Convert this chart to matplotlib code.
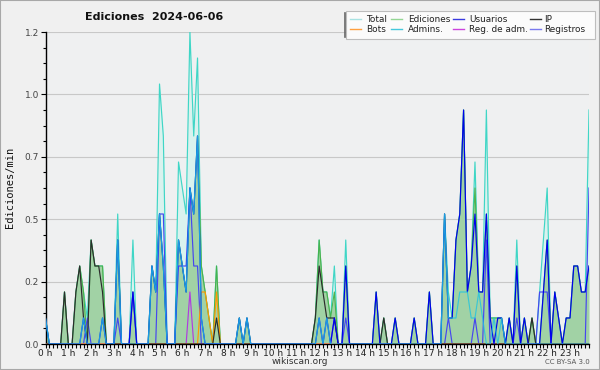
import numpy as np
import matplotlib
matplotlib.use("Agg")
import matplotlib.pyplot as plt
from matplotlib.patches import Rectangle
from matplotlib.lines import Line2D
from matplotlib.ticker import FixedLocator, MultipleLocator

# ---------------- data (10-minute bins, edits per minute) ----------------
N_BINS = 144
hours = list(range(24))
hour_labels = [f"{h} h" for h in hours]
y_ticks = [0.0, 0.24, 0.48, 0.72, 0.96, 1.2]

# bin index -> value (bins not listed are 0)
total_pts = {0: 0.1, 5: 0.2, 8: 0.2, 9: 0.3, 10: 0.2, 11: 0.1, 12: 0.4, 13: 0.3, 14: 0.3, 15: 0.3,
             19: 0.5, 23: 0.4, 28: 0.3, 29: 0.2, 30: 1.0, 31: 0.8, 35: 0.7, 36: 0.6, 37: 0.5,
             38: 1.2, 39: 0.8, 40: 1.1, 41: 0.3, 42: 0.2, 43: 0.1, 45: 0.3, 51: 0.1, 53: 0.1,
             71: 0.1, 72: 0.4, 73: 0.2, 74: 0.2, 75: 0.1, 76: 0.3, 79: 0.4, 87: 0.2, 89: 0.1,
             92: 0.1, 97: 0.1, 101: 0.2, 105: 0.5, 106: 0.2, 107: 0.1, 108: 0.4, 109: 0.5,
             110: 0.9, 111: 0.2, 112: 0.3, 113: 0.7, 114: 0.2, 115: 0.2, 116: 0.9, 117: 0.1,
             118: 0.1, 119: 0.1, 120: 0.1, 122: 0.1, 124: 0.4, 126: 0.1, 128: 0.1, 130: 0.2,
             131: 0.4, 132: 0.6, 134: 0.2, 135: 0.1, 137: 0.1, 138: 0.1, 139: 0.3, 140: 0.3,
             141: 0.2, 142: 0.2, 143: 0.9}
edits_pts = {0: 0.1, 5: 0.2, 8: 0.2, 9: 0.3, 10: 0.2, 12: 0.4, 13: 0.3, 14: 0.3, 15: 0.3,
             19: 0.4, 23: 0.2, 28: 0.3, 29: 0.2, 30: 0.5, 31: 0.3, 35: 0.4, 36: 0.3, 37: 0.2,
             38: 0.6, 39: 0.5, 40: 0.8, 41: 0.3, 42: 0.2, 43: 0.1, 45: 0.3, 51: 0.1, 53: 0.1,
             71: 0.1, 72: 0.4, 73: 0.2, 74: 0.2, 75: 0.1, 76: 0.2, 79: 0.3, 87: 0.2, 89: 0.1,
             92: 0.1, 97: 0.1, 101: 0.2, 105: 0.5, 106: 0.1, 107: 0.1, 108: 0.4, 109: 0.5,
             110: 0.9, 111: 0.2, 112: 0.3, 113: 0.6, 114: 0.2, 115: 0.2, 116: 0.5, 117: 0.1,
             118: 0.1, 119: 0.1, 120: 0.1, 122: 0.1, 124: 0.3, 126: 0.1, 128: 0.1, 131: 0.2,
             132: 0.4, 134: 0.2, 135: 0.1, 137: 0.1, 138: 0.1, 139: 0.3, 140: 0.3, 141: 0.2,
             142: 0.2, 143: 0.3}
users_pts = {0: 0.1, 10: 0.1, 15: 0.1, 19: 0.4, 23: 0.2, 28: 0.3, 29: 0.2, 30: 0.5, 31: 0.3,
             35: 0.4, 36: 0.3, 37: 0.2, 38: 0.6, 39: 0.5, 40: 0.8, 41: 0.1, 51: 0.1, 53: 0.1,
             72: 0.1, 74: 0.1, 76: 0.1, 79: 0.3, 87: 0.2, 92: 0.1, 97: 0.1, 101: 0.2, 105: 0.5,
             106: 0.1, 107: 0.1, 108: 0.4, 109: 0.5, 110: 0.9, 111: 0.2, 112: 0.3, 113: 0.5,
             114: 0.2, 115: 0.2, 116: 0.5, 117: 0.1, 119: 0.1, 120: 0.1, 122: 0.1, 124: 0.3,
             126: 0.1, 131: 0.2, 132: 0.4, 134: 0.2, 135: 0.1, 137: 0.1, 138: 0.1, 139: 0.3,
             140: 0.3, 141: 0.2, 142: 0.2, 143: 0.3}
ip_pts = {5: 0.2, 8: 0.2, 9: 0.3, 10: 0.1, 12: 0.4, 13: 0.3, 14: 0.3, 15: 0.2, 45: 0.1,
          71: 0.1, 72: 0.3, 73: 0.2, 74: 0.1, 75: 0.1, 76: 0.1, 89: 0.1, 128: 0.1}
bots_pts = {41: 0.2, 42: 0.2, 43: 0.1, 45: 0.2}
admins_pts = {0: 0.1, 10: 0.1, 15: 0.1, 19: 0.4, 28: 0.3, 29: 0.2, 30: 0.5, 31: 0.3, 35: 0.4,
              36: 0.3, 37: 0.2, 38: 0.6, 39: 0.5, 40: 0.8, 41: 0.1, 51: 0.1, 53: 0.1, 72: 0.1,
              74: 0.1, 105: 0.5, 106: 0.1, 107: 0.1, 108: 0.1, 109: 0.2, 110: 0.2, 111: 0.2,
              112: 0.1, 113: 0.1, 114: 0.2, 115: 0.1, 118: 0.1, 120: 0.1}
regadm_pts = {38: 0.2}
logs_pts = {11: 0.1, 19: 0.1, 23: 0.2, 30: 0.5, 31: 0.5, 35: 0.3, 36: 0.3, 37: 0.3, 38: 0.6,
            39: 0.3, 40: 0.3, 76: 0.1, 79: 0.1, 106: 0.1, 113: 0.1, 116: 0.4, 124: 0.1,
            130: 0.2, 131: 0.2, 132: 0.2, 143: 0.6}

legend_labels = ["Total", "Ediciones", "Usuarios", "IP",
                 "Bots", "Admins.", "Reg. de adm.", "Registros"]


def expand(pts):
    arr = np.zeros(N_BINS)
    for k, v in pts.items():
        arr[k] = v
    return arr


x = np.arange(N_BINS)
total = expand(total_pts)
edits = expand(edits_pts)
users = expand(users_pts)
ip = expand(ip_pts)
bots = expand(bots_pts)
admins = expand(admins_pts)
regadm = expand(regadm_pts)
logs = expand(logs_pts)

# ---------------- figure ----------------
W, H = 600, 370
fig = plt.figure(figsize=(6, 3.7), dpi=100, facecolor="#f0f0f0")
fig.patches.append(Rectangle((0, 0), 1, 1, transform=fig.transFigure, fill=False,
                             edgecolor="#a8a8a8", linewidth=1.5))

ax = fig.add_axes([45.5 / W, 26 / H, (589 - 45.5) / W, (344 - 32) / H])
ax.set_facecolor("#eff0f1")
ax.set_xlim(0, N_BINS - 1)
ax.set_ylim(0, 1.2)
ax.set_axisbelow(True)

lw = 0.85
ax.fill_between(x, total, color="#d9f2ee", lw=0, zorder=1)
ax.plot(x, total, color="#3fd6c6", lw=lw, zorder=2)
ax.fill_between(x, edits, color="#98cd98", lw=0, alpha=0.85, zorder=2.5)
ax.plot(x, edits, color="#44b044", lw=lw, alpha=0.9, zorder=3)
ax.plot(x, logs, color="#4646f0", lw=lw, zorder=4)
ax.plot(x, regadm, color="#b03ce0", lw=lw, zorder=4)
ax.plot(x, bots, color="#ff9a00", lw=lw, zorder=4)
ax.plot(x, ip, color="#2c2c2c", lw=lw, zorder=5)
ax.plot(x, users, color="#0000ee", lw=lw, zorder=5)
ax.plot(x, admins, color="#20c4e0", lw=lw, alpha=0.8, zorder=6)

# axes styling
for s in ["top", "right"]:
    ax.spines[s].set_visible(False)
ax.spines["left"].set_linewidth(1.0)
ax.spines["bottom"].set_linewidth(1.0)

ax.yaxis.set_major_locator(FixedLocator(y_ticks))
ax.set_yticklabels([f"{v:.1f}" for v in y_ticks])
ax.yaxis.set_minor_locator(FixedLocator(np.arange(0, 1.2001, 0.06)))
ax.grid(axis="y", which="major", color="#c8c8c8", lw=0.8)

ax.xaxis.set_major_locator(FixedLocator([h * 6 for h in hours]))
ax.set_xticklabels(hour_labels)
ax.xaxis.set_minor_locator(MultipleLocator(1))

ax.tick_params(axis="y", which="major", length=3.6, width=0.8, labelsize=6.5,
               labelcolor="#444444", pad=1)
ax.tick_params(axis="y", which="minor", length=2.2, width=0.8)
ax.tick_params(axis="x", which="both", length=2.6, width=0.8, labelsize=6.5,
               labelcolor="#222222", pad=1)

# texts
fig.text(85 / W, 1 - 16.5 / H, "Ediciones  2024-06-06", fontsize=8, fontweight="bold",
         ha="left", va="center", color="#111111")
fig.text(10 / W, 1 - 187 / H, "Ediciones/min", rotation=90, fontsize=7.5,
         family="DejaVu Sans Mono", ha="center", va="center", color="#111111")
fig.text(300 / W, 1 - 361.5 / H, "wikiscan.org", fontsize=6.5, ha="center", va="center",
         color="#333333")
fig.text(590 / W, 1 - 362.5 / H, "CC BY-SA 3.0", fontsize=5, ha="right", va="center",
         color="#555555")

# legend (manual)
fig.patches.append(Rectangle((346 / W, 1 - 39 / H), (595 - 346) / W, 28 / H,
                             transform=fig.transFigure, facecolor="#fbfbfb",
                             edgecolor="#bdbdbd", linewidth=0.8))
fig.add_artist(Line2D([344.5 / W, 344.5 / W], [1 - 37 / H, 1 - 13 / H],
                      transform=fig.transFigure, color="#666666", lw=1.2))
leg_colors = ["#a8e2e2", "#94d694", "#3a3ae0", "#333333",
              "#ffa040", "#44c8dc", "#cc44dd", "#7a7aee"]
col_line_x = [350, 391, 453, 530]
col_text_x = [366, 408, 469, 544]
row_y = [19, 29]
for i, (lab, c) in enumerate(zip(legend_labels, leg_colors)):
    r, col = divmod(i, 4)
    yy = 1 - row_y[r] / H
    fig.add_artist(Line2D([col_line_x[col] / W, (col_line_x[col] + 11) / W], [yy, yy],
                          transform=fig.transFigure, color=c, lw=1.0))
    fig.text(col_text_x[col] / W, yy, lab, fontsize=6.4, ha="left", va="center",
             color="#222222")

fig.savefig("out.png", dpi=100, facecolor=fig.get_facecolor())
